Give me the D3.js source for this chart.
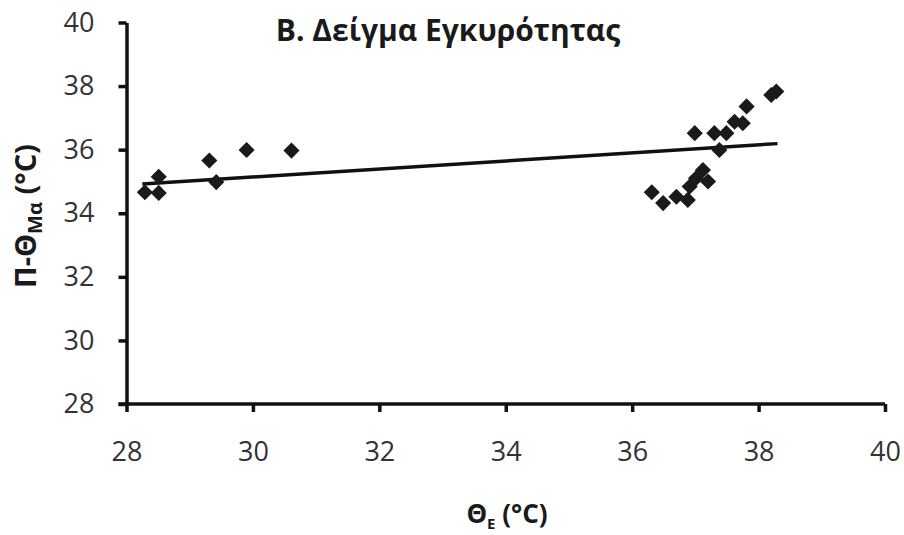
<!DOCTYPE html>
<meta charset="utf-8">
<style>
body { margin: 0; background: #fff; }
text { font-family: "Open Sans", "Noto Sans", sans-serif; fill: #1a1a1a; }
.axis text { font-size: 27px; fill: #333; }
.trend { fill: none; stroke: #111; stroke-width: 3.5px; }
.pt { fill: #1a1a1a; }
</style>
<body>
<script src="https://d3js.org/d3.v7.min.js"></script>
<script>
// scatter points (Θ_E, Π-Θ_Μα)
let thetaE = [28.29, 28.51, 28.51, 29.31, 29.42, 29.90, 30.61,
    36.31, 36.49, 36.70, 36.88, 36.91, 37.01, 37.12, 37.20, 36.99, 37.30,
    37.38, 37.49, 37.62, 37.75, 37.81, 38.20, 38.28];
let thetaMa = [34.66, 35.15, 34.64, 35.66, 34.98, 35.99, 35.97,
    34.66, 34.32, 34.52, 34.42, 34.84, 35.10, 35.36, 35.00, 36.52, 36.52,
    35.99, 36.52, 36.88, 36.83, 37.36, 37.72, 37.83];
// trend line end points
let trendX = [28.25, 38.3];
let trendY = [34.92, 36.19];
let xTicks = [28, 30, 32, 34, 36, 38, 40];
let yTicks = [28, 30, 32, 34, 36, 38, 40];

let width = 904, height = 535;

let x = d3.scaleLinear().domain([28, 40]).range([126.5, 885]);
let y = d3.scaleLinear().domain([28, 40]).range([404, 22.5]);

let svg = d3.select("body").append("svg")
    .attr("width", width)
    .attr("height", height);

// axes
let gx = svg.append("g")
    .attr("class", "axis")
    .attr("transform", "translate(0," + y(28) + ")")
    .call(d3.axisBottom(x).tickValues(xTicks).tickSize(8).tickSizeOuter(0).tickPadding(30));

let gy = svg.append("g")
    .attr("class", "axis")
    .attr("transform", "translate(" + x(28) + ",0)")
    .call(d3.axisLeft(y).tickValues(yTicks).tickSize(8).tickSizeOuter(0).tickPadding(24));

[gx, gy].forEach(function (g) {
    g.selectAll("path, line").attr("stroke", "#111").attr("stroke-width", 3.5);
});
// let the x axis line reach the left tick, like the original
gx.select(".domain").attr("d", "M" + (x(28) - 8) + ",0H" + x(40));

// trend line
let trend = trendX.map(function (d, i) { return {x: d, y: trendY[i]}; });
svg.append("path")
    .datum(trend)
    .attr("class", "trend")
    .attr("d", d3.line().x(function (d) { return x(d.x); }).y(function (d) { return y(d.y); }));

// points as diamonds
let pts = thetaE.map(function (d, i) { return {x: d, y: thetaMa[i]}; });
svg.selectAll(".pt").data(pts)
    .enter().append("path")
    .attr("class", "pt")
    .attr("d", d3.symbol().type(d3.symbolSquare).size(130))
    .attr("transform", function (d) {
        return "translate(" + x(d.x) + "," + y(d.y) + ") rotate(45)";
    });

// title
svg.append("text")
    .attr("x", 448)
    .attr("y", 41)
    .attr("text-anchor", "middle")
    .style("font-size", "30px")
    .style("font-weight", "bold")
    .text("Β. Δείγμα Εγκυρότητας");

// x axis title
let xt = svg.append("text")
    .attr("x", 507)
    .attr("y", 523)
    .attr("text-anchor", "middle")
    .style("font-size", "26px")
    .style("font-weight", "bold");
xt.append("tspan").text("Θ");
xt.append("tspan").attr("dy", 6).style("font-size", "15px").text("E");
xt.append("tspan").attr("dy", -6).text(" (°C)");

// y axis title
let yt = svg.append("text")
    .attr("transform", "translate(36,216) rotate(-90)")
    .attr("text-anchor", "middle")
    .style("font-size", "29px")
    .style("font-weight", "bold");
yt.append("tspan").text("Π-Θ");
yt.append("tspan").attr("dy", 6).style("font-size", "20px").text("Μα");
yt.append("tspan").attr("dy", -6).text(" (°C)");
</script>
</body>
